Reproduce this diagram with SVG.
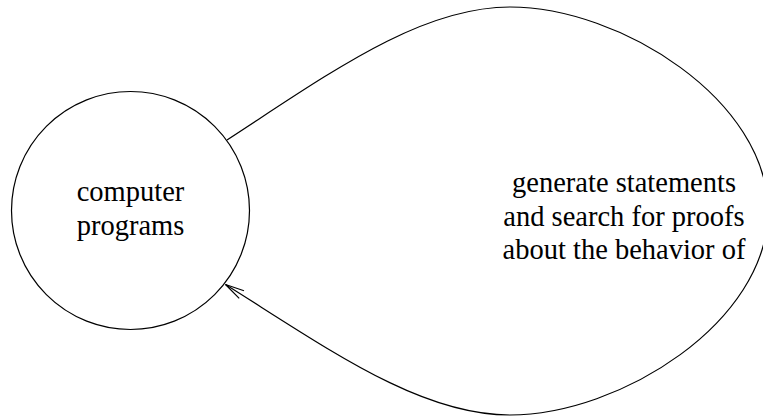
<svg xmlns="http://www.w3.org/2000/svg" width="763" height="417" viewBox="0 0 763 417">
<style>
.node{fill:none;stroke:#000;stroke-width:1.2}
.edge{fill:none;stroke:#000;stroke-width:1.2}
.lbl{font-family:"Liberation Serif","Times New Roman",serif;font-size:28.5px;fill:#000;text-anchor:middle}
</style>
<defs>
<marker id="open" markerUnits="userSpaceOnUse" markerWidth="30" markerHeight="20" viewBox="-22 -10 24 20" refX="0" refY="0" orient="auto">
<path d="M-19,-4.5 L0,0 L-19,4.5" fill="none" stroke="#000" stroke-width="1.2"/>
</marker>
</defs>
<rect width="763" height="417" fill="#fff"/>
<g id="node-programs">
<circle class="node" cx="130.5" cy="210.5" r="119"/>
<text class="lbl" x="130.5" y="201">computer</text>
<text class="lbl" x="130.5" y="235">programs</text>
</g>
<g id="connectors">
<path id="edge-loop" class="edge" d="M227,140 C330,73 420,7 510,7 C620,7 768,100 768,211 C768,322 620,415 510,415 C420,415 330,350 225.5,284.5" marker-end="url(#open)"/>
<g id="edge-label">
<text class="lbl" x="624" y="192">generate statements</text>
<text class="lbl" x="624" y="225.5">and search for proofs</text>
<text class="lbl" x="624" y="259">about the behavior of</text>
</g>
</g>
</svg>
